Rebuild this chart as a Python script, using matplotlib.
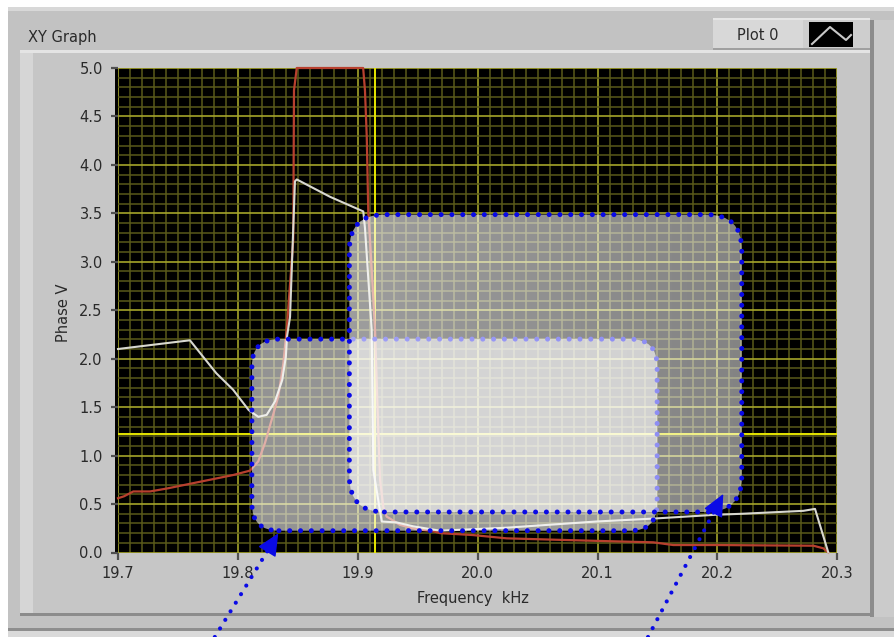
import numpy as np
import matplotlib.pyplot as plt
from matplotlib.patches import Rectangle, FancyBboxPatch
from matplotlib.ticker import MultipleLocator

# traces (frequency in kHz, phase in V)
freq_white = [19.700, 19.720, 19.740, 19.760, 19.782, 19.796, 19.809, 19.817,
              19.824, 19.831, 19.837, 19.840, 19.841, 19.8435, 19.8476, 19.8491,
              19.877, 19.9046, 19.906, 19.9116, 19.913, 19.920, 19.9325, 19.9463,
              19.9686, 20.0242, 20.0993, 20.1465, 20.1994, 20.2213, 20.2717,
              20.2814, 20.2925]
phase_white = [2.10, 2.13, 2.16, 2.19, 1.85, 1.68, 1.47, 1.40,
               1.42, 1.56, 1.78, 2.02, 2.23, 2.43, 3.83, 3.85,
               3.67, 3.52, 3.35, 2.30, 0.85, 0.32, 0.31, 0.27,
               0.225, 0.256, 0.32, 0.35, 0.39, 0.40, 0.43,
               0.45, 0.0]

freq_red = [19.700, 19.705, 19.7128, 19.7267, 19.7406, 19.7684, 19.7962, 19.8101,
            19.817, 19.8226, 19.8282, 19.8337, 19.8379, 19.8407, 19.8415, 19.8462,
            19.8468, 19.8491, 19.9045, 19.906, 19.9075, 19.9088, 19.9102, 19.9144,
            19.9171, 19.9186, 19.9213, 19.9241, 19.9269, 19.9352, 19.9492, 19.9628,
            19.9686, 19.996, 20.0242, 20.0993, 20.1465, 20.1632, 20.1994, 20.2801,
            20.2884, 20.2925]
phase_red = [0.56, 0.58, 0.63, 0.63, 0.66, 0.73, 0.80, 0.845,
             0.94, 1.13, 1.37, 1.61, 1.95, 2.30, 2.43, 3.23,
             4.77, 5.0, 5.0, 4.77, 4.29, 3.5, 3.23, 2.30,
             1.26, 0.75, 0.47, 0.37, 0.35, 0.285, 0.24, 0.22,
             0.20, 0.18, 0.146, 0.12, 0.105, 0.077, 0.077, 0.07,
             0.043, 0.0]

x_ticks = [19.7, 19.8, 19.9, 20.0, 20.1, 20.2, 20.3]
x_labels = ["19.7", "19.8", "19.9", "20.0", "20.1", "20.2", "20.3"]
y_ticks = [0.0, 0.5, 1.0, 1.5, 2.0, 2.5, 3.0, 3.5, 4.0, 4.5, 5.0]
y_labels = ["0.0", "0.5", "1.0", "1.5", "2.0", "2.5", "3.0", "3.5", "4.0", "4.5", "5.0"]

cursor_x = 19.9145
cursor_y = 1.22

# highlight boxes: x0, x1, y0, y1 (data) and corner radius (px)
box_lower = (19.8117, 20.1497, 0.225, 2.202, 27)
box_upper = (19.893, 20.2203, 0.418, 3.487, 35)

# arrows: tip (data) and tail (figure fraction)
arrow_tips = [(19.8337, 0.198), (20.2049, 0.604)]
arrow_tails = [(214.8 / 894, 0.0), (648.0 / 894, 0.0)]

W, H = 894, 637
fig = plt.figure(figsize=(W / 100, H / 100), dpi=100)
fig.patch.set_facecolor("white")

# ---- panel frame, drawn in pixel units (y down)
bg = fig.add_axes([0, 0, 1, 1], zorder=-5)
bg.set_xlim(0, W)
bg.set_ylim(H, 0)
bg.axis("off")


def block(x, y, w, h, c):
    bg.add_patch(Rectangle((x, y), w, h, facecolor=c, edgecolor="none"))


block(8, 7, W - 8, 623, "#c2c2c2")
block(8, 7, W - 8, 4, "#d8d8d8")
block(8, 628, W - 8, 3, "#8e8e8e")
block(8, 631, W - 8, 6, "#dadada")
block(20, 50, 853, 566, "#c6c6c6")
block(20, 50, 853, 3, "#e4e4e4")
block(20, 53, 13, 560, "#d6d6d6")
block(870, 20, 4, 597, "#8c8c8c")
block(20, 613, 854, 3, "#8c8c8c")
block(874, 20, W - 874, 597, "#cbcbcb")
block(115, 67, 3, 486, "black")

# legend
block(713, 18, 157, 32, "#cecece")
block(713, 18, 90, 32, "#d8d8d8")
block(713, 18, 157, 2, "#e6e6e6")
block(713, 48, 157, 2, "#a0a0a0")
block(809, 22, 44, 25, "black")
bg.plot([812, 830, 846, 851], [44, 27, 40, 35], color="#c8c8c8", lw=1.5)

txt = dict(family="DejaVu Sans", fontsize=10.5, color="#2a2a2a")
bg.text(28, 37.5, "XY Graph", ha="left", va="center", **txt)
bg.text(737, 35, "Plot 0", ha="left", va="center", **txt)
bg.text(473, 598, "Frequency  kHz", ha="center", va="center", **txt)
bg.text(63.5, 313, "Phase V", ha="center", va="center", rotation=90, **txt)

# ---- graph area
left, right, top, bottom = 118, 837.3, 68, 552.5
ax = fig.add_axes([left / W, 1 - bottom / H, (right - left) / W, (bottom - top) / H])
ax.set_facecolor("black")
for s in ax.spines.values():
    s.set_visible(False)

ax.xaxis.set_major_locator(MultipleLocator(0.1))
ax.xaxis.set_minor_locator(MultipleLocator(0.01))
ax.yaxis.set_major_locator(MultipleLocator(0.5))
ax.yaxis.set_minor_locator(MultipleLocator(0.1))
ax.grid(which="minor", color="#5a5a1a", lw=1.1, zorder=0)
ax.grid(which="major", color="#a4a42a", lw=1.2, zorder=0)
ax.set_axisbelow(True)

ax.set_xticks(x_ticks, x_labels)
ax.set_yticks(y_ticks, y_labels)
ax.tick_params(which="major", direction="out", length=5, width=1.6, color="#505050",
               labelsize=10.5, labelcolor="#2a2a2a")
ax.tick_params(axis="x", pad=4.5)
ax.tick_params(axis="y", pad=6)
ax.tick_params(which="minor", length=0)

ax.axvline(cursor_x, color="#e6e600", lw=1.4, zorder=1)
ax.axhline(cursor_y, color="#e6e600", lw=1.4, zorder=1)

ax.plot(freq_red, phase_red, color="#b8402f", lw=1.6, zorder=2, clip_on=False)
ax.plot(freq_white, phase_white, color="#d8d8d0", lw=1.5, zorder=2.1, clip_on=False)

ax.set_xlim(19.7, 20.3)
ax.set_ylim(0, 5)

# px -> data scale, used to keep the box corners circular
sx = 0.6 / (right - left)
sy = 5.0 / (bottom - top)


def highlight(box, a0, a1, z):
    x0, x1, y0, y1, r = box
    shape = dict(boxstyle=f"round,pad=0,rounding_size={r * sx}",
                 mutation_aspect=sy / sx, transform=ax.transData)
    clip = FancyBboxPatch((x0, y0), x1 - x0, y1 - y0, fill=False,
                          edgecolor="none", **shape)
    ax.add_patch(clip)
    grad = np.zeros((2, 64, 4))
    grad[..., :3] = 1.0
    grad[..., 3] = np.linspace(a0, a1, 64)[None, :]
    im = ax.imshow(grad, extent=(x0, x1, y0, y1), aspect="auto",
                   interpolation="bilinear", zorder=z)
    im.set_clip_path(clip)
    edge = FancyBboxPatch((x0, y0), x1 - x0, y1 - y0, fill=False,
                          edgecolor="#0a0ae6", lw=3.6, linestyle=(0, (0.01, 2.15)),
                          capstyle="round", zorder=z + 0.1, **shape)
    ax.add_patch(edge)


highlight(box_lower, 0.58, 0.62, 3)
highlight(box_upper, 0.62, 0.52, 3.2)

# dotted shafts with solid heads
for tip, tail in zip(arrow_tips, arrow_tails):
    tip_px = ax.transData.transform(tip)
    tail_px = fig.transFigure.transform(tail)
    d = tip_px - tail_px
    d = d / np.hypot(*d)
    base = ax.transData.inverted().transform(tip_px - d * 17)
    ax.annotate("", xy=base, xycoords="data", xytext=tail, textcoords="figure fraction",
                annotation_clip=False,
                arrowprops=dict(arrowstyle="-", color="#0a0ae6", lw=3.0,
                                linestyle=(0, (0.01, 2.4)), capstyle="round",
                                shrinkA=0, shrinkB=0),
                zorder=4)
    ax.annotate("", xy=tip, xycoords="data", xytext=base, textcoords="data",
                annotation_clip=False,
                arrowprops=dict(arrowstyle="-|>,head_length=1.4,head_width=0.65",
                                mutation_scale=10, color="#0a0ae6", lw=1,
                                shrinkA=0, shrinkB=0),
                zorder=4)

ax.set_xlim(19.7, 20.3)
ax.set_ylim(0, 5)

fig.savefig("out.png", dpi=100)
